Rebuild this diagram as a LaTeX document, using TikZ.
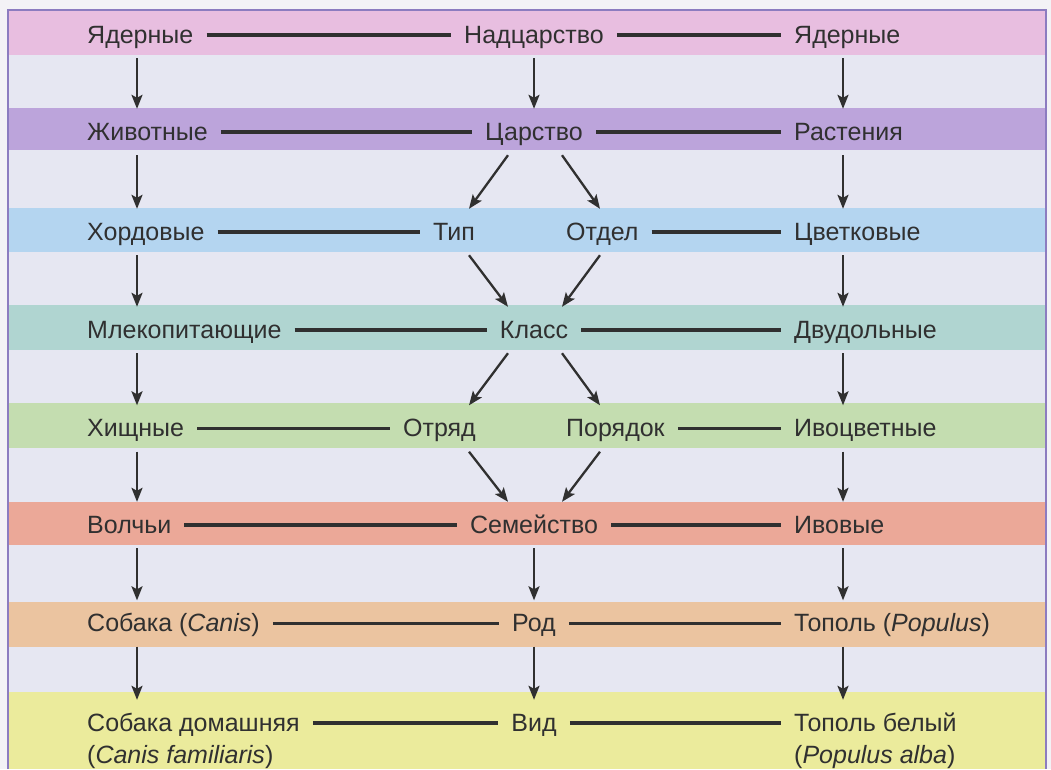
\documentclass[tikz,border=0pt]{standalone}
\usepackage{fontspec}
\setmainfont{Liberation Sans}
\usetikzlibrary{arrows.meta}
\definecolor{paper}{HTML}{F3F2F6}
\definecolor{inner}{HTML}{E6E7F2}
\definecolor{framec}{HTML}{8C7CC0}
\definecolor{bpink}{HTML}{E8BEE0}
\definecolor{bpurple}{HTML}{BCA4DB}
\definecolor{bblue}{HTML}{B4D5F0}
\definecolor{bteal}{HTML}{B0D5D1}
\definecolor{bgreen}{HTML}{C4DDB0}
\definecolor{bsalmon}{HTML}{EBA898}
\definecolor{borange}{HTML}{EBC4A0}
\definecolor{byellow}{HTML}{EBEB9C}
\definecolor{ink}{HTML}{303030}
\newcommand\lblfont{\fontsize{25}{30}\selectfont}
\tikzset{
  lbl/.style={font=\lblfont, text=ink, inner xsep=13pt, inner ysep=10pt, text height=21pt, text depth=5pt},
  lft/.style={lbl, anchor=base west},
  mid/.style={lbl, anchor=base},
  rgt/.style={lbl, anchor=base west},
  hl/.style={draw=ink, line width=3.2pt},
  arr/.style={draw=ink, line width=2.3pt, -{Stealth[length=14pt,width=11pt,inset=3pt]}}
}
\begin{document}
\begin{tikzpicture}[x=1pt,y=-1pt]
\useasboundingbox (0,0) rectangle (1051,769);
\fill[paper] (0,0) rectangle (1051,769);
\fill[inner] (8,10) rectangle (1046,769);
\fill[bpink] (8,11) rectangle (1046,55);
\fill[bpurple] (8,108) rectangle (1046,150);
\fill[bblue] (8,208) rectangle (1046,252);
\fill[bteal] (8,305) rectangle (1046,350);
\fill[bgreen] (8,403) rectangle (1046,448);
\fill[bsalmon] (8,502) rectangle (1046,545);
\fill[borange] (8,602) rectangle (1046,647);
\fill[byellow] (8,692) rectangle (1046,769);
\draw[framec, line width=2pt] (8,769) -- (8,10) -- (1046,10) -- (1046,769);

% left column
\node[lft] (l1) at (74,43) {Ядерные};
\node[lft] (l2) at (74,140) {Животные};
\node[lft] (l3) at (74,240) {Хордовые};
\node[lft] (l4) at (74,338) {Млекопитающие};
\node[lft] (l5) at (74,436.5) {Хищные};
\node[lft] (l6) at (74,533) {Волчьи};
\node[lft] (l7) at (74,631.5) {Собака (\textit{Canis})};
\node[lft] (l8) at (74,731) {Собака домашняя};
\node[lft] (l8b) at (74,763) {(\textit{Canis familiaris})};

% middle column
\node[mid] (m1) at (534,43) {Надцарство};
\node[mid] (m2) at (534,140) {Царство};
\node[lbl, anchor=base east] (t3) at (488,240) {Тип};
\node[lbl, anchor=base west] (o3) at (553,240) {Отдел};
\node[mid] (m4) at (534,338) {Класс};
\node[lbl, anchor=base east] (t5) at (489,436.5) {Отряд};
\node[lbl, anchor=base west] (o5) at (553,436.5) {Порядок};
\node[mid] (m6) at (534,533) {Семейство};
\node[mid] (m7) at (534,631.5) {Род};
\node[mid] (m8) at (534,731) {Вид};

% right column
\node[rgt] (r1) at (781,43) {Ядерные};
\node[rgt] (r2) at (781,140) {Растения};
\node[rgt] (r3) at (781,240) {Цветковые};
\node[rgt] (r4) at (781,338) {Двудольные};
\node[rgt] (r5) at (781,436.5) {Ивоцветные};
\node[rgt] (r6) at (781,533) {Ивовые};
\node[rgt] (r7) at (781,631.5) {Тополь (\textit{Populus})};
\node[rgt] (r8) at (781,731) {Тополь белый};
\node[rgt] (r8b) at (781,763) {(\textit{Populus alba})};

% horizontal lines
\draw[hl] (l1) -- (m1);  \draw[hl] (m1) -- (r1);
\draw[hl] (l2) -- (m2);  \draw[hl] (m2) -- (r2);
\draw[hl] (l3) -- (t3);  \draw[hl] (o3) -- (r3);
\draw[hl] (l4) -- (m4);  \draw[hl] (m4) -- (r4);
\draw[hl] (l5) -- (t5);  \draw[hl] (o5) -- (r5);
\draw[hl] (l6) -- (m6);  \draw[hl] (m6) -- (r6);
\draw[hl] (l7) -- (m7);  \draw[hl] (m7) -- (r7);
\draw[hl] (l8) -- (m8);  \draw[hl] (m8) -- (r8);

% left vertical arrows
\foreach \a/\b in {l1/l2,l2/l3,l3/l4,l4/l5,l5/l6,l6/l7,l7/l8}
  \draw[arr] ([xshift=63pt]\a.south west) -- ([xshift=63pt]\b.north west);
% right vertical arrows
\foreach \a/\b in {r1/r2,r2/r3,r3/r4,r4/r5,r5/r6,r6/r7,r7/r8}
  \draw[arr] ([xshift=62pt]\a.south west) -- ([xshift=62pt]\b.north west);
% middle vertical arrows
\draw[arr] (m1.south) -- (m2.north);
\draw[arr] (m6.south) -- (m7.north);
\draw[arr] (m7.south) -- (m8.north);

% diagonal arrows
\draw[arr] ([xshift=-26pt]m2.south) -- ([xshift=-19pt]t3.north east);
\draw[arr] ([xshift=28pt]m2.south) -- ([xshift=47pt]o3.north west);
\draw[arr] ([xshift=-19pt]t3.south east) -- ([xshift=-26pt]m4.north);
\draw[arr] ([xshift=47pt]o3.south west) -- ([xshift=28pt]m4.north);
\draw[arr] ([xshift=-26pt]m4.south) -- ([xshift=-20pt]t5.north east);
\draw[arr] ([xshift=28pt]m4.south) -- ([xshift=47pt]o5.north west);
\draw[arr] ([xshift=-20pt]t5.south east) -- ([xshift=-26pt]m6.north);
\draw[arr] ([xshift=47pt]o5.south west) -- ([xshift=28pt]m6.north);
\end{tikzpicture}
\end{document}
